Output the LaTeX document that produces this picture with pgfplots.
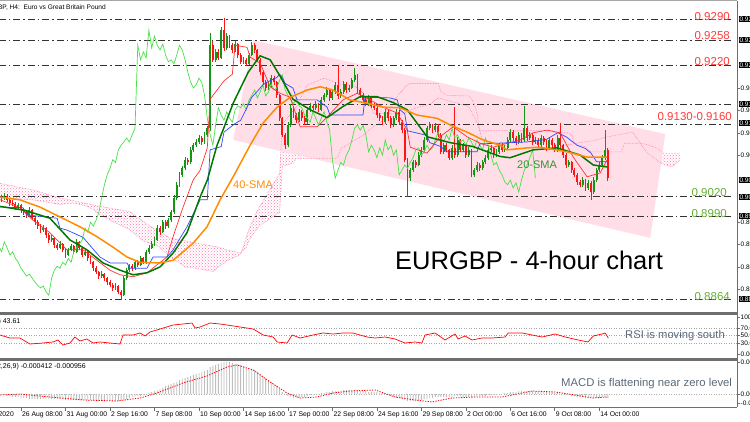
\documentclass[border=0pt]{standalone}
\usepackage{fontspec}
\setmainfont{Liberation Sans}
\usepackage{pgfplots}
\pgfplotsset{compat=1.18}
\usepackage{pgfplotstable}
\usepgfplotslibrary{fillbetween}
\usetikzlibrary{patterns}

\definecolor{bull}{RGB}{20,150,20}
\definecolor{bear}{RGB}{255,20,20}
\definecolor{chikou}{RGB}{70,225,70}
\definecolor{sma20}{RGB}{0,120,0}
\definecolor{sma40}{RGB}{255,140,0}
\definecolor{kijun}{RGB}{50,70,255}
\definecolor{tenkan}{RGB}{255,50,50}
\definecolor{cloudpink}{RGB}{255,120,175}
\definecolor{chanpink}{RGB}{255,222,232}
\definecolor{lvlred}{RGB}{255,60,60}
\definecolor{lvlgreen}{RGB}{100,175,50}
\definecolor{annot}{RGB}{90,105,120}
\definecolor{histgray}{RGB}{190,190,190}
\definecolor{sep}{RGB}{110,110,110}

\pgfplotstableread{
i o h l c
0 0.9015 0.9022 0.9012 0.9018
1 0.9018 0.9025 0.9015 0.9021
2 0.9021 0.9024 0.9011 0.9015
3 0.9015 0.9018 0.9006 0.9010
4 0.9010 0.9014 0.9005 0.9009
5 0.9009 0.9012 0.9000 0.9004
6 0.9004 0.9010 0.9001 0.9007
7 0.9007 0.9009 0.8995 0.8999
8 0.8999 0.9003 0.8992 0.8996
9 0.8996 0.8999 0.8988 0.8992
10 0.8992 0.9004 0.8989 0.8999
11 0.8999 0.9001 0.8984 0.8987
12 0.8987 0.8990 0.8977 0.8981
13 0.8981 0.8984 0.8971 0.8975
14 0.8975 0.8978 0.8965 0.8969
15 0.8969 0.8976 0.8966 0.8972
16 0.8972 0.8974 0.8957 0.8961
17 0.8961 0.8964 0.8950 0.8954
18 0.8954 0.8961 0.8951 0.8957
19 0.8957 0.8959 0.8942 0.8946
20 0.8946 0.8949 0.8938 0.8942
21 0.8942 0.8952 0.8940 0.8948
22 0.8948 0.8950 0.8935 0.8939
23 0.8939 0.8941 0.8927 0.8931
24 0.8931 0.8942 0.8929 0.8939
25 0.8939 0.8948 0.8937 0.8945
26 0.8945 0.8947 0.8932 0.8936
27 0.8936 0.8955 0.8934 0.8951
28 0.8951 0.8953 0.8939 0.8942
29 0.8942 0.8944 0.8928 0.8931
30 0.8931 0.8940 0.8929 0.8936
31 0.8936 0.8938 0.8922 0.8926
32 0.8926 0.8929 0.8917 0.8920
33 0.8920 0.8922 0.8907 0.8911
34 0.8911 0.8914 0.8902 0.8905
35 0.8905 0.8907 0.8895 0.8899
36 0.8899 0.8906 0.8896 0.8902
37 0.8902 0.8904 0.8892 0.8896
38 0.8896 0.8898 0.8886 0.8890
39 0.8890 0.8893 0.8882 0.8885
40 0.8885 0.8888 0.8877 0.8881
41 0.8881 0.8888 0.8878 0.8884
42 0.8884 0.8886 0.8872 0.8875
43 0.8875 0.8878 0.8863 0.8870
44 0.8870 0.8899 0.8868 0.8896
45 0.8896 0.8912 0.8893 0.8908
46 0.8908 0.8918 0.8905 0.8914
47 0.8914 0.8917 0.8907 0.8911
48 0.8911 0.8924 0.8909 0.8920
49 0.8920 0.8923 0.8913 0.8916
50 0.8916 0.8929 0.8914 0.8926
51 0.8926 0.8928 0.8917 0.8920
52 0.8920 0.8939 0.8918 0.8936
53 0.8936 0.8946 0.8933 0.8942
54 0.8942 0.8952 0.8940 0.8948
55 0.8948 0.8958 0.8945 0.8954
56 0.8954 0.8976 0.8952 0.8972
57 0.8972 0.8975 0.8962 0.8966
58 0.8966 0.8985 0.8964 0.8981
59 0.8981 0.8984 0.8971 0.8975
60 0.8975 0.8988 0.8972 0.8984
61 0.8984 0.8999 0.8981 0.8996
62 0.8996 0.9022 0.8994 0.9018
63 0.9018 0.9042 0.9015 0.9038
64 0.9038 0.9057 0.9035 0.9053
65 0.9053 0.9067 0.9050 0.9063
66 0.9063 0.9080 0.9060 0.9076
67 0.9076 0.9079 0.9068 0.9072
68 0.9072 0.9095 0.9070 0.9091
69 0.9091 0.9102 0.9088 0.9098
70 0.9098 0.9107 0.9095 0.9103
71 0.9103 0.9113 0.9100 0.9109
72 0.9109 0.9112 0.9099 0.9103
73 0.9103 0.9118 0.9100 0.9114
74 0.9114 0.9128 0.9111 0.9124
75 0.9124 0.9269 0.9120 0.9250
76 0.9250 0.9256 0.9224 0.9228
77 0.9228 0.9245 0.9225 0.9240
78 0.9240 0.9244 0.9227 0.9231
79 0.9231 0.9278 0.9229 0.9273
80 0.9273 0.9292 0.9242 0.9246
81 0.9246 0.9268 0.9243 0.9264
82 0.9264 0.9266 0.9246 0.9250
83 0.9250 0.9254 0.9239 0.9243
84 0.9243 0.9256 0.9240 0.9252
85 0.9252 0.9254 0.9231 0.9235
86 0.9235 0.9238 0.9221 0.9225
87 0.9225 0.9232 0.9222 0.9228
88 0.9228 0.9231 0.9218 0.9222
89 0.9222 0.9239 0.9220 0.9235
90 0.9235 0.9255 0.9233 0.9250
91 0.9250 0.9253 0.9239 0.9243
92 0.9243 0.9245 0.9224 0.9228
93 0.9228 0.9230 0.9205 0.9209
94 0.9209 0.9211 0.9190 0.9194
95 0.9194 0.9197 0.9181 0.9185
96 0.9185 0.9194 0.9182 0.9190
97 0.9190 0.9205 0.9187 0.9200
98 0.9200 0.9203 0.9190 0.9194
99 0.9194 0.9196 0.9170 0.9174
100 0.9174 0.9176 0.9135 0.9139
101 0.9139 0.9141 0.9110 0.9114
102 0.9114 0.9116 0.9093 0.9098
103 0.9098 0.9133 0.9095 0.9129
104 0.9129 0.9160 0.9126 0.9155
105 0.9155 0.9158 0.9140 0.9144
106 0.9144 0.9147 0.9132 0.9136
107 0.9136 0.9153 0.9133 0.9149
108 0.9149 0.9151 0.9135 0.9139
109 0.9139 0.9142 0.9129 0.9133
110 0.9133 0.9156 0.9131 0.9152
111 0.9152 0.9162 0.9149 0.9158
112 0.9158 0.9161 0.9151 0.9155
113 0.9155 0.9165 0.9152 0.9161
114 0.9161 0.9163 0.9148 0.9152
115 0.9152 0.9171 0.9150 0.9167
116 0.9167 0.9178 0.9164 0.9174
117 0.9174 0.9186 0.9171 0.9182
118 0.9182 0.9184 0.9166 0.9170
119 0.9170 0.9183 0.9167 0.9179
120 0.9179 0.9194 0.9176 0.9190
121 0.9190 0.9220 0.9169 0.9173
122 0.9173 0.9183 0.9170 0.9179
123 0.9179 0.9195 0.9176 0.9191
124 0.9191 0.9194 0.9178 0.9182
125 0.9182 0.9189 0.9179 0.9185
126 0.9185 0.9201 0.9183 0.9197
127 0.9197 0.9215 0.9194 0.9205
128 0.9205 0.9207 0.9178 0.9182
129 0.9182 0.9185 0.9170 0.9174
130 0.9174 0.9177 0.9163 0.9167
131 0.9167 0.9170 0.9157 0.9161
132 0.9161 0.9174 0.9158 0.9170
133 0.9170 0.9172 0.9154 0.9158
134 0.9158 0.9162 0.9151 0.9155
135 0.9155 0.9157 0.9140 0.9144
136 0.9144 0.9147 0.9135 0.9139
137 0.9139 0.9142 0.9129 0.9133
138 0.9133 0.9153 0.9131 0.9149
139 0.9149 0.9151 0.9135 0.9139
140 0.9139 0.9142 0.9125 0.9129
141 0.9129 0.9143 0.9126 0.9139
142 0.9139 0.9153 0.9136 0.9149
143 0.9149 0.9151 0.9129 0.9133
144 0.9133 0.9136 0.9117 0.9121
145 0.9121 0.9124 0.9072 0.9076
146 0.9076 0.9079 0.9020 0.9048
147 0.9048 0.9064 0.9044 0.9060
148 0.9060 0.9076 0.9057 0.9072
149 0.9072 0.9075 0.9064 0.9068
150 0.9068 0.9087 0.9066 0.9083
151 0.9083 0.9095 0.9080 0.9091
152 0.9091 0.9110 0.9088 0.9106
153 0.9106 0.9128 0.9103 0.9124
154 0.9124 0.9133 0.9121 0.9129
155 0.9129 0.9131 0.9117 0.9121
156 0.9121 0.9132 0.9118 0.9128
157 0.9128 0.9130 0.9110 0.9114
158 0.9114 0.9116 0.9084 0.9088
159 0.9088 0.9102 0.9085 0.9098
160 0.9098 0.9101 0.9087 0.9091
161 0.9091 0.9093 0.9075 0.9079
162 0.9079 0.9098 0.9076 0.9094
163 0.9094 0.9156 0.9079 0.9083
164 0.9083 0.9110 0.9080 0.9106
165 0.9106 0.9108 0.9087 0.9091
166 0.9091 0.9102 0.9088 0.9098
167 0.9098 0.9100 0.9079 0.9083
168 0.9083 0.9095 0.9080 0.9091
169 0.9091 0.9093 0.9049 0.9053
170 0.9053 0.9064 0.9050 0.9060
171 0.9060 0.9072 0.9057 0.9068
172 0.9068 0.9071 0.9059 0.9063
173 0.9063 0.9076 0.9060 0.9072
174 0.9072 0.9083 0.9069 0.9079
175 0.9079 0.9095 0.9076 0.9091
176 0.9091 0.9098 0.9088 0.9094
177 0.9094 0.9096 0.9079 0.9083
178 0.9083 0.9092 0.9080 0.9088
179 0.9088 0.9102 0.9085 0.9098
180 0.9098 0.9101 0.9087 0.9091
181 0.9091 0.9098 0.9088 0.9094
182 0.9094 0.9110 0.9091 0.9106
183 0.9106 0.9122 0.9103 0.9118
184 0.9118 0.9121 0.9105 0.9109
185 0.9109 0.9112 0.9099 0.9103
186 0.9103 0.9118 0.9100 0.9114
187 0.9114 0.9117 0.9102 0.9106
188 0.9106 0.9158 0.9103 0.9124
189 0.9124 0.9127 0.9105 0.9109
190 0.9109 0.9118 0.9106 0.9114
191 0.9114 0.9117 0.9099 0.9103
192 0.9103 0.9110 0.9100 0.9106
193 0.9106 0.9109 0.9094 0.9098
194 0.9098 0.9113 0.9095 0.9109
195 0.9109 0.9112 0.9099 0.9103
196 0.9103 0.9106 0.9090 0.9094
197 0.9094 0.9110 0.9091 0.9106
198 0.9106 0.9109 0.9094 0.9098
199 0.9098 0.9101 0.9087 0.9091
200 0.9091 0.9113 0.9088 0.9109
201 0.9109 0.9132 0.9094 0.9098
202 0.9098 0.9100 0.9079 0.9083
203 0.9083 0.9086 0.9064 0.9068
204 0.9068 0.9076 0.9065 0.9072
205 0.9072 0.9074 0.9056 0.9060
206 0.9060 0.9063 0.9049 0.9053
207 0.9053 0.9056 0.9038 0.9042
208 0.9042 0.9045 0.9034 0.9038
209 0.9038 0.9049 0.9035 0.9045
210 0.9045 0.9047 0.9029 0.9033
211 0.9033 0.9045 0.9030 0.9041
212 0.9041 0.9043 0.9015 0.9027
213 0.9027 0.9049 0.9024 0.9045
214 0.9045 0.9064 0.9042 0.9060
215 0.9060 0.9072 0.9057 0.9068
216 0.9068 0.9083 0.9065 0.9079
217 0.9079 0.9121 0.9076 0.9091
218 0.9091 0.9094 0.9044 0.9048
}\candles

\pgfplotstableread{
i m
0 -0.0001
1 -0.0001
2 -0.0002
3 -0.0002
4 -0.0003
5 -0.0003
6 -0.0003
7 -0.0004
8 -0.0004
9 -0.0004
10 -0.0005
11 -0.0005
12 -0.0005
13 -0.0005
14 -0.0005
15 -0.0005
16 -0.0005
17 -0.0005
18 -0.0005
19 -0.0005
20 -0.0005
21 -0.0005
22 -0.0005
23 -0.0006
24 -0.0006
25 -0.0006
26 -0.0006
27 -0.0006
28 -0.0006
29 -0.0006
30 -0.0006
31 -0.0006
32 -0.0006
33 -0.0007
34 -0.0007
35 -0.0007
36 -0.0007
37 -0.0007
38 -0.0007
39 -0.0007
40 -0.0007
41 -0.0007
42 -0.0007
43 -0.0007
44 -0.0006
45 -0.0005
46 -0.0004
47 -0.0003
48 -0.0003
49 -0.0002
50 -0.0002
51 -0.0001
52 0.0000
53 0.0001
54 0.0002
55 0.0003
56 0.0004
57 0.0005
58 0.0006
59 0.0008
60 0.0009
61 0.0010
62 0.0011
63 0.0012
64 0.0014
65 0.0015
66 0.0016
67 0.0017
68 0.0018
69 0.0019
70 0.0020
71 0.0021
72 0.0022
73 0.0023
74 0.0024
75 0.0027
76 0.0028
77 0.0029
78 0.0030
79 0.0031
80 0.0032
81 0.0032
82 0.0032
83 0.0031
84 0.0030
85 0.0030
86 0.0029
87 0.0028
88 0.0027
89 0.0026
90 0.0025
91 0.0024
92 0.0022
93 0.0020
94 0.0018
95 0.0016
96 0.0014
97 0.0012
98 0.0010
99 0.0008
100 0.0005
101 0.0002
102 0.0000
103 -0.0002
104 -0.0003
105 -0.0004
106 -0.0004
107 -0.0004
108 -0.0003
109 -0.0003
110 -0.0002
111 -0.0001
112 -0.0001
113 0.0000
114 0.0000
115 0.0001
116 0.0001
117 0.0002
118 0.0002
119 0.0003
120 0.0003
121 0.0003
122 0.0003
123 0.0004
124 0.0004
125 0.0004
126 0.0004
127 0.0004
128 0.0004
129 0.0003
130 0.0003
131 0.0003
132 0.0002
133 0.0002
134 0.0002
135 0.0002
136 0.0001
137 0.0001
138 0.0000
139 -0.0001
140 -0.0002
141 -0.0003
142 -0.0004
143 -0.0004
144 -0.0005
145 -0.0006
146 -0.0007
147 -0.0007
148 -0.0007
149 -0.0007
150 -0.0006
151 -0.0006
152 -0.0005
153 -0.0005
154 -0.0004
155 -0.0004
156 -0.0003
157 -0.0003
158 -0.0003
159 -0.0003
160 -0.0003
161 -0.0003
162 -0.0003
163 -0.0002
164 -0.0002
165 -0.0002
166 -0.0003
167 -0.0003
168 -0.0003
169 -0.0003
170 -0.0003
171 -0.0002
172 -0.0002
173 -0.0002
174 -0.0002
175 -0.0001
176 -0.0001
177 -0.0001
178 0.0000
179 0.0000
180 0.0000
181 0.0001
182 0.0001
183 0.0002
184 0.0002
185 0.0002
186 0.0003
187 0.0003
188 0.0003
189 0.0003
190 0.0003
191 0.0003
192 0.0003
193 0.0003
194 0.0003
195 0.0002
196 0.0002
197 0.0002
198 0.0002
199 0.0001
200 0.0001
201 0.0000
202 0.0000
203 -0.0001
204 -0.0001
205 -0.0002
206 -0.0002
207 -0.0003
208 -0.0003
209 -0.0003
210 -0.0004
211 -0.0004
212 -0.0004
213 -0.0004
214 -0.0004
215 -0.0004
216 -0.0003
217 -0.0003
218 -0.0004
}\macdtab

\newcommand{\pbox}[2]{\node[fill=black,text=white,anchor=west,inner sep=0.8pt,font=\fontsize{6.5}{7}\selectfont] at (738.5pt,#1pt) {#2};}
\newcommand{\ptick}[2]{\draw[sep,line width=0.6pt] (737pt,#1pt) -- (740pt,#1pt); \node[anchor=west,inner sep=0.5pt,font=\fontsize{6.5}{7}\selectfont] at (740pt,#1pt) {#2};}

\begin{document}
\begin{tikzpicture}

% ---------------- main price panel ----------------
\begin{axis}[at={(0pt,115pt)}, anchor=south west, scale only axis,
  width=737pt, height=304pt,
  xmin=-0.554, xmax=264.5, ymin=0.88535, ymax=0.93159,
  hide axis, clip=true]

% descending channel
\addplot[fill=chanpink, draw=none] coordinates {(90.5,0.9258) (238.7,0.9115) (233.3,0.8957) (83.3,0.9106)} --cycle;

% ichimoku cloud
\addplot[name path=spanA, cloudpink, densely dotted, line width=0.6pt] coordinates {
(-0.5,0.9018) (11.3,0.9015) (21,0.9008) (26,0.9010) (31,0.9005) (36,0.8991) (41,0.8980) (46,0.8970) (51,0.8952) (56,0.8946) (61,0.8927) (66,0.8913) (71,0.8910) (76,0.8906) (81,0.8922) (86,0.8932) (89,0.8970) (92,0.8999) (96,0.9027) (100,0.9055) (101,0.9130) (106,0.9157) (110,0.9190) (116,0.9200) (122,0.9191) (126,0.9191) (130,0.9178) (134,0.9146) (140,0.9146) (144,0.9145) (149,0.9155) (154,0.9160) (157,0.9170) (163,0.9163) (168,0.9157) (171,0.9133) (173,0.9106) (179,0.9100) (184,0.9103) (188,0.9107) (193,0.9100) (198,0.9100) (203,0.9098) (208,0.9102) (213,0.9105) (217,0.9110) (222,0.9114) (227,0.9118) (232,0.9087) (237,0.9071) (241,0.9065) (244,0.9075)};
\addplot[name path=spanB, cloudpink, densely dotted, line width=0.6pt] coordinates {
(-0.5,0.9040) (11.3,0.9030) (21,0.9018) (35.4,0.9005) (46.2,0.8997) (53.4,0.8975) (60.6,0.8957) (71.4,0.8948) (77,0.8944) (81,0.8939) (86,0.8934) (88,0.8943) (89,0.8953) (90,0.8960) (92,0.8972) (94,0.8979) (97,0.8988) (100,0.8996) (101,0.9066) (105,0.9071) (106,0.9078) (120,0.9078) (121,0.9080) (122,0.9093) (126,0.9103) (130,0.9113) (134,0.9127) (136,0.9132) (139,0.9143) (140,0.9154) (141,0.9164) (142,0.9171) (143,0.9176) (146,0.9190) (147,0.9192) (157,0.9192) (158,0.9180) (160,0.9174) (168,0.9173) (169,0.9169) (170,0.9161) (171,0.9146) (172,0.9120) (198,0.9120) (199,0.9117) (204,0.9117) (205,0.9113) (206,0.9102) (207,0.9098) (210,0.9096) (211,0.9091) (212,0.9088) (223,0.9088) (224,0.9101) (230,0.9101) (233,0.9098) (236,0.9093) (238,0.9086) (244,0.9086)};
\addplot[pattern=crosshatch dots, pattern color=cloudpink, draw=none] fill between[of=spanA and spanB];

% level lines
\pgfplotsinvokeforeach{0.9290,0.9258,0.9220,0.9160,0.9130,0.9020,0.8990,0.8864}{
  \addplot[black!80, line width=0.7pt, dash pattern=on 7pt off 3pt on 1.5pt off 3pt] coordinates {(-1,#1) (263.1,#1)};
}

% candles: wicks
\addplot[draw=none, mark=none, restrict expr to domain={\thisrow{c}-\thisrow{o}}{0:1},
  error bars/.cd, y dir=plus, y explicit, error mark=none,
  error bar style={draw=bull, solid, line width=0.8pt}]
  table[x=i, y=l, y error expr=\thisrow{h}-\thisrow{l}] {\candles};
\addplot[draw=none, mark=none, restrict expr to domain={\thisrow{o}-\thisrow{c}}{0.00001:1},
  error bars/.cd, y dir=plus, y explicit, error mark=none,
  error bar style={draw=bear, solid, line width=0.8pt}]
  table[x=i, y=l, y error expr=\thisrow{h}-\thisrow{l}] {\candles};
% candles: bodies
\addplot[draw=none, mark=none, restrict expr to domain={\thisrow{c}-\thisrow{o}}{0:1},
  error bars/.cd, y dir=plus, y explicit, error mark=none,
  error bar style={draw=bull, solid, line width=1.9pt}]
  table[x=i, y=o, y error expr=\thisrow{c}-\thisrow{o}] {\candles};
\addplot[draw=none, mark=none, restrict expr to domain={\thisrow{o}-\thisrow{c}}{0.00001:1},
  error bars/.cd, y dir=plus, y explicit, error mark=none,
  error bar style={draw=bear, solid, line width=1.9pt}]
  table[x=i, y=c, y error expr=\thisrow{o}-\thisrow{c}] {\candles};

% chikou span (close shifted back 26 bars)
\addplot[chikou, line width=0.7pt, mark=none] table[x expr=\thisrow{i}-26, y=c] {\candles};

% tenkan-sen
\addplot[tenkan, line width=0.7pt, mark=none] coordinates {
(-0.5,0.9015) (6.6,0.9003) (11.3,0.8984) (17.4,0.8965) (23.5,0.8939) (29.3,0.8939) (34.3,0.8923) (39,0.8908) (42.6,0.8901) (47.3,0.8898) (52.3,0.8904) (55.9,0.8916) (59.5,0.8928) (61.7,0.8959) (65.3,0.9004) (68.9,0.9045) (71.4,0.9060) (74,0.9094) (75,0.9168) (77.5,0.9182) (80,0.9196) (83,0.9206) (84,0.9250) (88.3,0.9247) (89.4,0.9232) (93,0.9223) (96.6,0.9187) (100.2,0.9177) (103.8,0.9171) (107.4,0.9126) (113.5,0.9126) (117.1,0.9141) (122.8,0.9167) (127.9,0.9177) (132.5,0.9167) (137.2,0.9156) (142.3,0.9147) (145.9,0.9121) (147,0.9095) (153,0.9086) (157.7,0.9111) (162.4,0.9126) (167.4,0.9111) (172.1,0.9101) (176.8,0.9095) (181.8,0.9101) (186.5,0.9106) (191.2,0.9117) (196.2,0.9121) (200.9,0.9117) (205.6,0.9080) (210.6,0.9050) (215.3,0.9056) (217.8,0.9076)};

% kijun-sen
\addplot[kijun, line width=0.7pt, mark=none] coordinates {
(-0.5,0.9004) (7.7,0.9003) (9.2,0.8992) (20,0.8987) (21,0.8972) (23.5,0.8969) (29.3,0.8958) (35.4,0.8928) (39,0.8919) (45.1,0.8919) (46.2,0.8911) (52.3,0.8911) (54.5,0.8928) (59.5,0.8928) (61.7,0.8939) (66.7,0.8974) (71.4,0.9015) (74,0.9015) (75,0.9091) (79,0.9096) (80,0.9118) (84,0.9131) (86,0.9136) (88,0.9153) (90,0.9171) (92,0.9180) (94,0.9190) (96,0.9195) (99,0.9201) (100,0.9206) (101,0.9201) (102,0.9192) (104.8,0.9185) (106.3,0.9167) (113.5,0.9167) (117.1,0.9156) (118.1,0.9144) (130,0.9144) (130.7,0.9171) (139.7,0.9170) (142.3,0.9167) (143.3,0.9152) (145,0.9146) (146,0.9120) (153,0.9113) (154,0.9102) (158,0.9096) (160,0.9088) (171,0.9088) (172,0.9100) (189,0.9103) (196,0.9107) (200,0.9117) (203,0.9111) (207,0.9098) (210,0.9093) (212,0.9086) (214,0.9073) (218,0.9073)};

% 20-SMA
\addplot[sma20, line width=1.5pt, mark=none] coordinates {
(-0.5,0.9005) (8.4,0.8999) (17.4,0.8987) (24.6,0.8954) (30.7,0.8939) (36.5,0.8919) (42.6,0.8908) (47.3,0.8901) (52.3,0.8904) (57,0.8913) (61.7,0.8934) (66.7,0.8965) (71.4,0.9019) (74,0.9045) (77.5,0.9098) (80,0.9125) (83.3,0.9162) (88.7,0.9209) (93,0.9234) (96.6,0.9228) (100.2,0.9203) (104.8,0.9168) (111,0.9152) (117.1,0.9140) (122.8,0.9157) (129,0.9172) (135,0.9172) (140.8,0.9163) (145.9,0.9152) (153,0.9111) (161.3,0.9102) (169.6,0.9096) (179.3,0.9081) (182.9,0.9079) (191.2,0.9091) (199.8,0.9094) (208.1,0.9083) (212.8,0.9068) (217.8,0.9065)};

% 40-SMA
\addplot[sma40, line width=1.5pt, mark=none] coordinates {
(-0.5,0.9019) (6.6,0.9015) (13.8,0.9004) (21,0.8989) (28.2,0.8974) (34.3,0.8959) (40.1,0.8943) (45.1,0.8928) (49.8,0.8920) (57,0.8919) (61.7,0.8923) (68.9,0.8949) (73.9,0.8974) (78.6,0.9015) (83.3,0.9050) (89.4,0.9098) (94.1,0.9132) (99.1,0.9156) (103.8,0.9171) (109.9,0.9182) (114.6,0.9187) (119.2,0.9182) (125.3,0.9167) (131.5,0.9162) (137.2,0.9156) (143.3,0.9155) (149.4,0.9144) (156.6,0.9139) (161.3,0.9129) (167.4,0.9118) (173.2,0.9106) (179.3,0.9098) (181.8,0.9091) (189,0.9094) (193.7,0.9095) (203.4,0.9088) (210.6,0.9080) (217.8,0.9080)};
\end{axis}

% ---------------- RSI panel ----------------
\begin{axis}[at={(0pt,64pt)}, anchor=south west, scale only axis,
  width=737pt, height=42pt,
  xmin=-0.554, xmax=264.5, ymin=-7.33, ymax=104.7, hide axis, clip=true]
\pgfplotsinvokeforeach{30,50,70}{
  \addplot[gray!70, line width=0.5pt, dash pattern=on 1pt off 1.5pt] coordinates {(-1,#1) (265,#1)};
}
\addplot[red, line width=0.7pt, mark=none] coordinates {
(-0.55,51.3) (3.0,43.3) (6.6,43.3) (10.2,27.3) (14.9,30) (18.5,32.7) (20.3,38) (22.1,24.7) (24.6,30) (26.4,46) (28.2,35.3) (30.7,40.7) (32.9,30) (35.4,32.7) (39,30) (42.6,27.3) (43.7,51.3) (47.3,51.3) (49.8,56.7) (51.6,48.7) (53.4,59.3) (57,67.3) (61.7,78) (65.3,80.7) (68.5,83.3) (69.6,70) (71.4,72.7) (75,83.3) (78.6,80.7) (81.1,78) (85.8,72.7) (90.5,67.3) (94.1,51.3) (97.7,46) (99.1,32.7) (102.7,30) (104.5,51.3) (107.4,43.3) (112.0,51.3) (115.6,56.7) (119.2,54) (122.8,56.7) (126.4,56.7) (128.9,51.3) (131.5,46) (134.4,43.3) (137.9,46) (141.5,40.7) (145.1,30) (148.7,32.7) (151.2,30) (152.3,51.3) (155.9,56.7) (159.5,38) (163.1,54) (164.2,40.7) (166.7,48.7) (169.2,38) (172.8,43.3) (176.4,43.3) (181.1,46) (182.2,56.7) (187.2,56.7) (190.8,51.3) (194.4,46) (199.1,54) (202.7,46) (207.4,38) (210.9,32.7) (212.8,48.7) (216,54) (217.1,56.7) (218.2,43.3)};
\end{axis}

% ---------------- MACD panel ----------------
\begin{axis}[at={(0pt,14pt)}, anchor=south west, scale only axis,
  width=737pt, height=46pt,
  xmin=-0.554, xmax=264.5, ymin=-0.0013, ymax=0.0033, hide axis, clip=true]
\addplot[gray!60, line width=0.5pt, dash pattern=on 1pt off 1.5pt] coordinates {(-1,0) (265,0)};
\addplot[ybar, bar width=0.9pt, fill=histgray, draw=none] table[x=i, y=m] {\macdtab};
\addplot[red, line width=0.8pt, dash pattern=on 1.3pt off 1.3pt, mark=none] coordinates {
(-0.5,-0.0001) (6.6,0) (17.4,-0.0003) (29.3,-0.0006) (41.5,-0.0007) (49.8,-0.0004) (55.9,0.0001) (65.3,0.0011) (73.9,0.0018) (81.1,0.0027) (84.7,0.0029) (90.5,0.0024) (96.6,0.0012) (102.7,0.0001) (107.4,-0.0004) (113.5,-0.0003) (119.2,0.0001) (125.3,0.0003) (134.4,0.0004) (141.5,-0.0003) (148.7,-0.0006) (154.8,-0.0008) (162,-0.0004) (170.3,-0.0003) (180,-0.0003) (187.2,0.0001) (190.8,0.0003) (199.1,0.0002) (206.3,-0.0001) (212.4,-0.0004) (218.2,-0.0003)};
\end{axis}

% ---------------- frames ----------------
\draw[gray!70, line width=0.8pt] (0pt,420.3pt) -- (737pt,420.3pt);
\draw[sep, line width=0.8pt] (737pt,14pt) -- (737pt,420.3pt);
\draw[sep, line width=2.5pt] (0pt,107.5pt) -- (738pt,107.5pt);
\draw[sep, line width=2.5pt] (0pt,61.5pt) -- (738pt,61.5pt);
\draw[sep, line width=0.8pt] (0pt,14pt) -- (737pt,14pt);

% x-axis ticks and labels
\node[anchor=base east, inner sep=0pt, font=\fontsize{6.8}{7}\selectfont] at (14pt,5pt) {25 Aug 2020};
\foreach \k/\lab in {0/26 Aug 08:00,1/31 Aug 00:00,2/2 Sep 16:00,3/7 Sep 08:00,4/10 Sep 00:00,5/14 Sep 16:00,6/17 Sep 00:00,7/22 Sep 08:00,8/24 Sep 16:00,9/29 Sep 08:00,10/2 Oct 00:00,11/6 Oct 16:00,12/9 Oct 08:00,13/14 Oct 00:00}{
  \draw[sep, line width=0.6pt] ({(21+44.48*\k)*1pt},14pt) -- ({(21+44.48*\k)*1pt},10pt);
  \node[anchor=base west, inner sep=0pt, font=\fontsize{6.8}{7}\selectfont] at ({(22+44.48*\k)*1pt},5pt) {\lab};
}

% panel headers
\node[anchor=base east, inner sep=0pt, font=\fontsize{6.6}{8}\selectfont] at (106pt,411.7pt) {EURGBP, H4:\ \ Euro vs Great Britain Pound};
\node[anchor=base east, inner sep=0pt, font=\fontsize{7}{8}\selectfont] at (20.5pt,97.5pt) {RSI(14) 43.61};
\node[anchor=base east, inner sep=0pt, font=\fontsize{7}{8}\selectfont] at (86pt,53pt) {MACD(12,26,9) -0.000412 -0.000956};

% right price scale
\ptick{333}{0.91850}
\ptick{311}{0.91510}
\ptick{288}{0.91170}
\ptick{266}{0.90830}
\ptick{199}{0.89820}
\ptick{177}{0.89480}
\ptick{154}{0.89140}
\ptick{132}{0.88800}
\pbox{402}{0.92900}
\pbox{381}{0.92580}
\pbox{356}{0.92200}
\pbox{317}{0.91600}
\pbox{298}{0.91300}
\pbox{241}{0.90480}
\pbox{224}{0.90200}
\pbox{205}{0.89900}
\pbox{122}{0.88640}
% RSI scale
\ptick{104}{100.00}
\ptick{93}{70.00}
\ptick{86}{50.00}
\ptick{78}{30.00}
\ptick{67}{0.00}
% MACD scale
\ptick{59}{0.003300}
\ptick{27}{0.000000}
\ptick{18}{-0.000956}

% level labels
\node[anchor=base east, inner sep=0pt, text=lvlred, font=\fontsize{11.5}{12}\selectfont] at (730pt,400pt) {0.9290};
\node[anchor=base east, inner sep=0pt, text=lvlred, font=\fontsize{11.5}{12}\selectfont] at (730pt,381pt) {0.9258};
\node[anchor=base east, inner sep=0pt, text=lvlred, font=\fontsize{11.5}{12}\selectfont] at (730pt,355pt) {0.9220};
\node[anchor=base east, inner sep=0pt, text=lvlred, font=\fontsize{11.5}{12}\selectfont] at (732pt,300pt) {0.9130-0.9160};
\node[anchor=base east, inner sep=0pt, text=lvlgreen, font=\fontsize{11.5}{12}\selectfont] at (727pt,224pt) {0.9020};
\node[anchor=base east, inner sep=0pt, text=lvlgreen, font=\fontsize{11.5}{12}\selectfont] at (727pt,204pt) {0.8990};
\node[anchor=base east, inner sep=0pt, text=lvlgreen, font=\fontsize{11.5}{12}\selectfont] at (730pt,121pt) {0.8864};

% annotations
\node[anchor=base west, inner sep=0pt, font=\fontsize{25.5}{27}\selectfont] at (395pt,151pt) {EURGBP - 4-hour chart};
\node[anchor=base west, inner sep=0pt, text=sma40, font=\fontsize{11}{12}\selectfont] at (233pt,232pt) {40-SMA};
\node[anchor=base west, inner sep=0pt, text=sma20!80!white, font=\fontsize{11}{12}\selectfont] at (517pt,252pt) {20-SMA};
\node[anchor=base west, inner sep=0pt, text=annot, font=\fontsize{11.2}{12}\selectfont] at (625pt,83pt) {RSI is moving south};
\node[anchor=base west, inner sep=0pt, text=annot, font=\fontsize{11.3}{12}\selectfont] at (561pt,35pt) {MACD is flattening near zero level};

% crop the picture to the reference frame
\pgfresetboundingbox
\useasboundingbox (0pt,0pt) rectangle (750pt,421pt);
\end{tikzpicture}
\end{document}
